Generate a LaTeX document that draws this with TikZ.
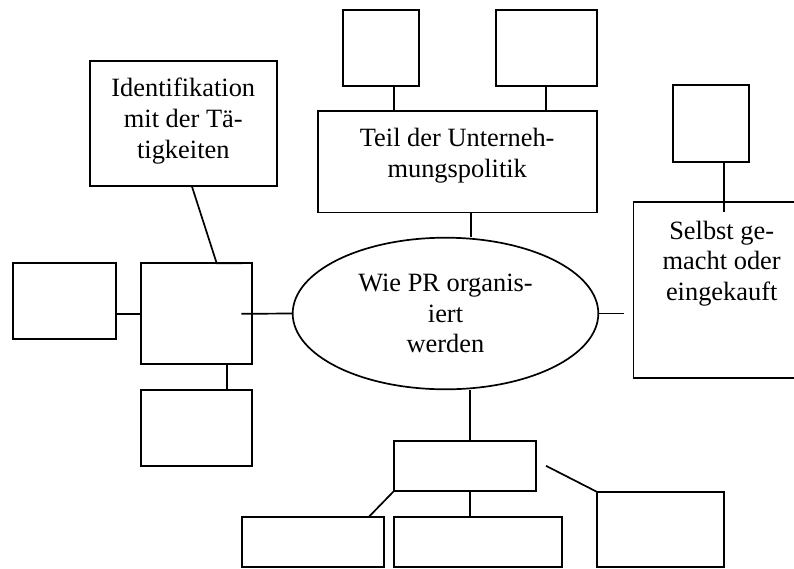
\documentclass[tikz,border=0pt]{standalone}
\usepackage{fontspec}
\setmainfont{Liberation Serif}
\usetikzlibrary{shapes.geometric}
\begin{document}
\begin{tikzpicture}[x=1pt,y=-1pt,line width=1.7pt,
  bx/.style 2 args={draw,rectangle,inner sep=0pt,outer sep=0pt,minimum width=#1,minimum height=#2},
  txt/.style={align=center,inner sep=0pt,font=\fontsize{26.4}{30.8}\selectfont}]
\useasboundingbox (0,0) rectangle (794,568);
\clip (0,0) rectangle (794,568);
% boxes
\node[bx={76pt}{76pt}] (t1) at (381.3,48) {};
\node[bx={101pt}{76pt}] (t2) at (546.2,48) {};
\node[bx={279pt}{101.3pt}] (teil) at (457.2,161.7) {};
\node[bx={186.7pt}{125pt}] (id) at (183.3,123.2) {};
\node[bx={102.4pt}{76pt}] (fl) at (64.5,301.3) {};
\node[bx={111.6pt}{101pt}] (lm) at (196.5,313.8) {};
\node[bx={111.6pt}{76pt}] (lb) at (196.5,428) {};
\node[bx={76.3pt}{76.7pt}] (rt) at (710.8,123.3) {};
\node[bx={176.7pt}{176.6pt}] (rb) at (721.7,290) {};
\node[bx={142pt}{50.3pt}] (mb) at (465,465.8) {};
\node[bx={142pt}{50pt}] (bl) at (313,541.7) {};
\node[bx={167.7pt}{50pt}] (bm) at (477.8,541.7) {};
\node[bx={127.3pt}{75pt}] (br) at (660.3,529.2) {};
% ellipse
\node[draw,ellipse,minimum width=305.6pt,minimum height=151.6pt,txt] (E) at (445.5,313.5) {Wie PR organis-\\iert\\werden};
% texts
\node[txt,anchor=north] (idt) at (183.3,77.5) {Identifikation\\mit der Tä-\\tigkeiten};
\node[txt,anchor=north] (tt) at (457.2,127.5) {Teil der Unterneh-\\mungspolitik};
\node[txt,anchor=north] (st) at (721.7,220) {Selbst ge-\\macht oder\\eingekauft};
% connectors
\draw ([xshift=13pt]t1.south) -- ([xshift=13pt]t1.south |- teil.north);
\draw (t2.south) -- (t2.south |- teil.north);
\draw ([xshift=13.5pt]teil.south) -- ([xshift=13.5pt]teil.south |- E.north);
\draw ([xshift=5pt]mb.north) -- ([xshift=5pt]mb.north |- E.south);
\draw ([xshift=5pt]mb.south) -- ([xshift=5pt]mb.south |- bm.north);
\draw (mb.south west) -- ([xshift=-15pt]bl.north east);
\coordinate (mbr) at ([xshift=10pt]mb.east);
\draw (mbr) -- (br.north west);
\coordinate (re) at ([xshift=24.4pt]E.east);
\draw (E.east) -- (re);
\coordinate (rtl) at ([xshift=13.2pt]rt.south |- rb.north);
\draw ([xshift=13.2pt]rt.south) -- ([yshift=-10pt]rtl);
\coordinate (lme) at ([xshift=-11pt]lm.east);
\draw (E.west) -- (lme);
\draw (lm.west) -- (lm.west -| fl.east);
\draw ([xshift=30.5pt]lm.south) -- ([xshift=30.5pt]lm.south |- lb.north);
\draw ([xshift=8.4pt]id.south) -- ([xshift=20.2pt]lm.north) -- ([xshift=45.8pt]lm.north);
\end{tikzpicture}
\end{document}
